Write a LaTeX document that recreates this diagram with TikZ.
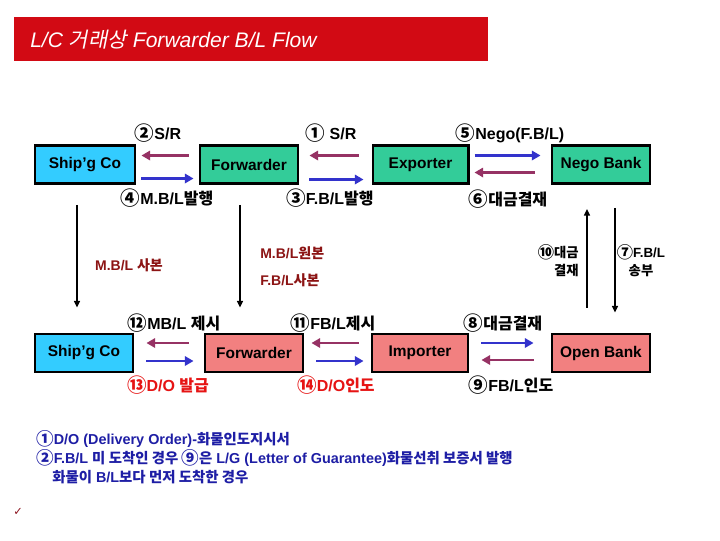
\documentclass[tikz,border=0pt]{standalone}
\usepackage{fontspec}
\usepackage{graphicx}
\setmainfont{Liberation Sans}
\newfontfamily\krf{Noto Sans CJK KR}
\newfontfamily\krit{Noto Sans CJK KR}[FakeSlant=0.2]
\newfontfamily\dejavu{DejaVu Sans}
\newcommand\kr[1]{{\krf #1}}
\newcommand\cn[1]{\raisebox{-0.08em}{\scalebox{1.22}{\krf #1}}}
\usetikzlibrary{arrows.meta,calc}
\definecolor{titlered}{RGB}{210,10,20}
\definecolor{cyanbox}{RGB}{51,204,255}
\definecolor{greenbox}{RGB}{51,204,153}
\definecolor{pinkbox}{RGB}{242,128,128}
\definecolor{parrow}{RGB}{150,50,100}
\definecolor{barrow}{RGB}{51,51,204}
\definecolor{maroontext}{RGB}{140,20,20}
\definecolor{redtext}{RGB}{230,20,20}
\definecolor{notetext}{RGB}{30,30,165}
\definecolor{checkred}{RGB}{140,20,30}
\tikzset{
  box/.style={draw=black, line width=2.2pt, minimum height=28.5pt, inner sep=0pt,
    font=\bfseries\fontsize{11.6}{13}\selectfont},
  lbl/.style={inner sep=0pt, font=\bfseries\fontsize{12}{14}\selectfont},
  rlbl/.style={lbl, text=redtext},
  mlbl/.style={inner sep=0pt, text=maroontext, font=\bfseries\fontsize{10.5}{12}\selectfont},
  vlbl/.style={inner sep=0pt, font=\bfseries\fontsize{10}{13.5}\selectfont},
  note/.style={inner sep=0pt, anchor=west, text=notetext, font=\bfseries\fontsize{10.8}{12}\selectfont},
  parr/.style={draw=parrow, line width=2.2pt, -{Triangle[length=6.5pt,width=7pt]}},
  barr/.style={draw=barrow, line width=2.2pt, -{Triangle[length=6.5pt,width=7pt]}},
  varr/.style={draw=black, line width=1.1pt, -{Triangle[length=5pt,width=4.5pt]}},
}
\begin{document}
\begin{tikzpicture}[x=0.75pt,y=-0.75pt]
\useasboundingbox[fill=white] (0,0) rectangle (720,540);

% title
\fill[titlered] (14,17) rectangle (488,61);
\node[inner sep=0pt, anchor=west, text=white, font=\itshape\fontsize{15.8}{18}\selectfont] (title) at (30,40)
  {L/C {\krit 거래상} Forwarder B/L Flow};

% top row boxes
\node[box, fill=cyanbox, minimum width=75pt] (s1) at (85,164.5) {Ship'g Co};
\node[box, fill=greenbox, minimum width=73.5pt] (f1) at (249,164.5) {Forwarder};
\node[box, fill=greenbox, minimum width=71.3pt] (e1) at (420.5,164.5) {Exporter};
\node[box, fill=greenbox, minimum width=73.5pt] (n1) at (601,164.5) {Nego Bank};

% bottom row boxes
\node[box, fill=cyanbox, minimum width=73.5pt] (s2) at (84,353) {Ship'g Co};
\node[box, fill=pinkbox, minimum width=73.5pt] (f2) at (254,353) {Forwarder};
\node[box, fill=pinkbox, minimum width=72pt] (i2) at (420,353) {Importer};
\node[box, fill=pinkbox, minimum width=73.5pt] (o2) at (601,353) {Open Bank};

% top arrows
\draw[parr] ($(f1.west)+(-10,-9)$) -- ($(s1.east)+(5,-9)$);
\draw[barr] ($(s1.east)+(5,14)$) -- ($(f1.west)+(-5,14)$);
\draw[parr] ($(e1.west)+(-13,-9)$) -- ($(f1.east)+(10,-9)$);
\draw[barr] ($(f1.east)+(10,15)$) -- ($(e1.west)+(-8,15)$);
\draw[barr] ($(e1.east)+(5,-9)$) -- ($(n1.west)+(-10,-9)$);
\draw[parr] ($(n1.west)+(-16,8)$) -- ($(e1.east)+(5,8)$);

% bottom arrows
\draw[parr] ($(f2.west)+(-15,-10)$) -- ($(s2.east)+(12,-10)$);
\draw[barr] ($(s2.east)+(12,8)$) -- ($(f2.west)+(-10,8)$);
\draw[parr] ($(i2.west)+(-12,-10)$) -- ($(f2.east)+(7,-10)$);
\draw[barr] ($(f2.east)+(12,8)$) -- ($(i2.west)+(-7,8)$);
\draw[barr] ($(i2.east)+(12,-10)$) -- ($(o2.west)+(-17,-10)$);
\draw[parr] ($(o2.west)+(-17,7)$) -- ($(i2.east)+(12,7)$);

% vertical arrows
\draw[varr] ($(s1.south)+(-8,20)$) -- ($(s2.north)+(-7,-25)$);
\draw[varr] ($(f1.south)+(-9,20)$) -- ($(f2.north)+(-14,-25)$);
\draw[varr] ($(o2.north)+(-14,-25)$) -- ($(n1.south)+(-14,24)$);
\draw[varr] ($(n1.south)+(14,23)$) -- ($(o2.north)+(14,-20)$);

% top labels
\node[lbl] (l2) at (158,133) {\cn{②}S/R};
\node[lbl] (l1) at (331,133) {\cn{①} S/R};
\node[lbl] (l5) at (510,133) {\cn{⑤}Nego(F.B/L)};
\node[lbl] (l4) at (167,198) {\cn{④}M.B/L\kr{발행}};
\node[lbl] (l3) at (330,198) {\cn{③}F.B/L\kr{발행}};
\node[lbl] (l6) at (508,199) {\cn{⑥}\kr{대금결재}};

% middle labels
\node[mlbl] (m1) at (129,265) {M.B/L \kr{사본}};
\node[mlbl, anchor=west] (m2) at (260,253) {M.B/L\kr{원본}};
\node[mlbl, anchor=west] (m3) at (260,280) {F.B/L\kr{사본}};
\node[vlbl, align=right, anchor=east] (l10) at (579,261) {\cn{⑩}\kr{대금}\\\kr{결재}};
\node[vlbl, align=center] (l7) at (641,261) {\cn{⑦}F.B/L\\\kr{송부}};

% bottom labels
\node[lbl] (l12) at (174,323) {\cn{⑫}MB/L \kr{제시}};
\node[lbl] (l11) at (333,323) {\cn{⑪}FB/L\kr{제시}};
\node[lbl] (l8) at (503,323) {\cn{⑧}\kr{대금결재}};
\node[rlbl] (l13) at (168,385) {\cn{⑬}D/O \kr{발급}};
\node[rlbl] (l14) at (336,385) {\cn{⑭}D/O\kr{인도}};
\node[lbl] (l9) at (511,385) {\cn{⑨}FB/L\kr{인도}};

% notes
\node[note] (t1) at (36,439) {\cn{①}D/O (Delivery Order)-\kr{화물인도지시서}};
\node[note] (t2) at (36,458) {\cn{②}F.B/L \kr{미 도착인 경우 }\cn{⑨}\kr{은} L/G (Letter of Guarantee)\kr{화물선취 보증서 발행}};
\node[note] (t3) at (52,477) {\kr{화물이} B/L\kr{보다 먼저 도착한 경우}};

% check mark
\node[inner sep=0pt, text=checkred, font=\dejavu\fontsize{8.5}{9}\selectfont] (chk) at (18,512) {✓};
\end{tikzpicture}
\end{document}
